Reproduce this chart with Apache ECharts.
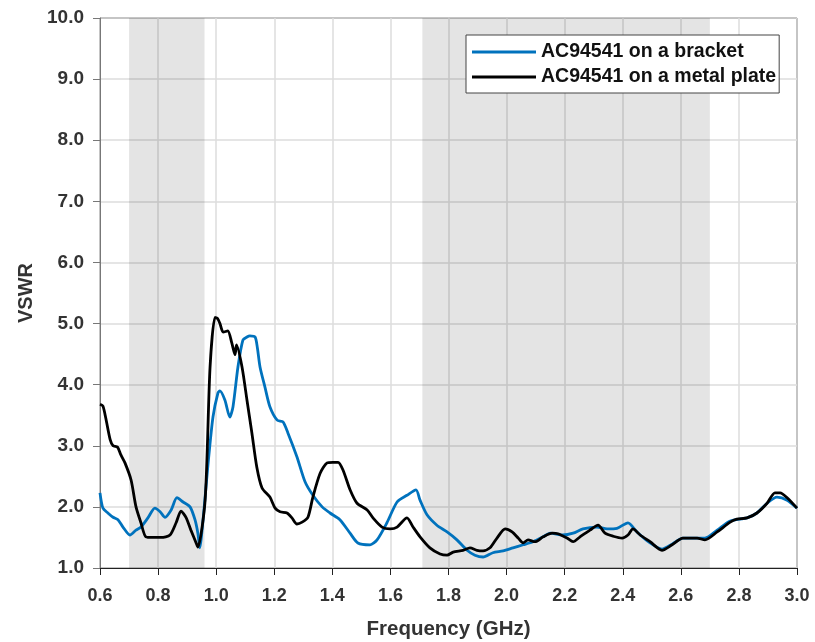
<!DOCTYPE html>
<html>
<head>
<meta charset="utf-8">
<script src="https://cdn.jsdelivr.net/npm/echarts@6/dist/echarts.min.js"></script>
<style>html,body{margin:0;padding:0;background:#fff}#c{width:815px;height:642px}</style>
</head>
<body>
<div id="c"></div>
<script>
const seriesNames = ['AC94541 on a bracket', 'AC94541 on a metal plate'];
const xTicks = ['0.6','0.8','1.0','1.2','1.4','1.6','1.8','2.0','2.2','2.4','2.6','2.8','3.0'];
const yTicks = ['1.0','2.0','3.0','4.0','5.0','6.0','7.0','8.0','9.0','10.0'];
const shadedBands = [[0.70, 0.96], [1.71, 2.70]];

const freqBracket = [0.6,0.61,0.627,0.645,0.662,0.679,0.703,0.724,0.741,0.765,0.789,0.807,0.824,0.845,0.865,0.886,0.91,0.927,0.937,0.944,0.95,0.958,0.972,0.989,1.006,1.013,1.03,1.047,1.058,1.075,1.092,1.106,1.116,1.134,1.142,1.151,1.168,1.185,1.21,1.23,1.247,1.278,1.306,1.333,1.365,1.392,1.426,1.461,1.488,1.53,1.554,1.588,1.623,1.657,1.688,1.702,1.726,1.76,1.795,1.829,1.864,1.891,1.919,1.953,1.988,2.022,2.057,2.091,2.126,2.15,2.194,2.229,2.263,2.311,2.346,2.38,2.418,2.449,2.494,2.535,2.57,2.607,2.656,2.683,2.725,2.77,2.828,2.862,2.897,2.931,2.966,3.0];
const vswrBracket = [2.23,1.98,1.90,1.83,1.79,1.67,1.54,1.62,1.67,1.82,1.98,1.92,1.83,1.95,2.15,2.08,2.0,1.79,1.57,1.33,1.55,1.95,2.7,3.47,3.86,3.9,3.75,3.47,3.64,4.29,4.73,4.78,4.80,4.78,4.6,4.29,3.96,3.64,3.42,3.39,3.21,2.82,2.41,2.19,2.0,1.90,1.79,1.57,1.41,1.38,1.46,1.74,2.08,2.19,2.28,2.11,1.87,1.70,1.59,1.46,1.29,1.21,1.18,1.25,1.28,1.33,1.38,1.43,1.51,1.57,1.54,1.57,1.64,1.67,1.64,1.65,1.74,1.59,1.41,1.31,1.39,1.49,1.49,1.49,1.62,1.77,1.82,1.90,2.06,2.16,2.11,1.98];

const freqPlate = [0.6,0.61,0.62,0.635,0.645,0.66,0.672,0.686,0.707,0.724,0.741,0.758,0.782,0.81,0.841,0.862,0.879,0.896,0.913,0.931,0.937,0.962,0.979,0.996,1.005,1.013,1.024,1.04,1.054,1.065,1.07,1.089,1.106,1.123,1.14,1.158,1.185,1.203,1.22,1.244,1.261,1.278,1.296,1.316,1.333,1.358,1.382,1.402,1.42,1.437,1.461,1.485,1.52,1.54,1.571,1.599,1.623,1.657,1.678,1.702,1.736,1.771,1.795,1.816,1.85,1.874,1.898,1.919,1.943,1.967,1.995,2.019,2.04,2.057,2.074,2.098,2.126,2.157,2.177,2.208,2.229,2.253,2.287,2.315,2.339,2.367,2.398,2.418,2.435,2.46,2.494,2.535,2.57,2.607,2.656,2.683,2.725,2.77,2.793,2.828,2.862,2.897,2.924,2.942,2.966,3.0];
const vswrPlate = [3.68,3.65,3.45,3.1,3.0,2.98,2.85,2.72,2.44,2.0,1.74,1.51,1.5,1.5,1.54,1.74,1.93,1.83,1.62,1.41,1.34,2.11,4.29,5.1,5.08,5.0,4.86,4.88,4.68,4.49,4.65,4.29,3.75,3.21,2.65,2.31,2.16,1.98,1.92,1.9,1.82,1.72,1.75,1.83,2.16,2.55,2.72,2.73,2.73,2.6,2.28,2.06,1.95,1.82,1.67,1.64,1.67,1.82,1.67,1.51,1.33,1.23,1.21,1.26,1.29,1.33,1.29,1.28,1.33,1.49,1.64,1.59,1.49,1.41,1.46,1.43,1.51,1.57,1.56,1.49,1.43,1.51,1.62,1.70,1.57,1.52,1.49,1.54,1.64,1.54,1.43,1.29,1.38,1.49,1.49,1.46,1.59,1.75,1.80,1.82,1.90,2.06,2.23,2.23,2.15,1.98];

const zip = (a, b) => a.map((x, i) => [x, b[i]]);
const FONT = '"Liberation Sans", Arial, sans-serif';

const chart = echarts.init(document.getElementById('c'), null, {renderer: 'canvas'});
chart.setOption({
  animation: false,
  backgroundColor: '#fff',
  grid: {left: 100, right: 18, top: 18, bottom: 74, show: true, borderColor: '#000', borderWidth: 1,
    backgroundColor: 'transparent', containLabel: false, outerBoundsMode: 'none'},
  legend: {
    left: 466, top: 35,
    orient: 'vertical',
    data: seriesNames,
    icon: 'rect',
    itemWidth: 64, itemHeight: 3,
    itemGap: 5,
    padding: [7, 3, 6, 6],
    backgroundColor: '#fff',
    borderColor: '#444', borderWidth: 1, borderRadius: 0,
    textStyle: {fontFamily: FONT, fontWeight: 'bold', fontSize: 19.5, color: '#111', lineHeight: 20}
  },
  xAxis: {
    type: 'value', min: 0.6, max: 3.0, interval: 0.2,
    name: 'Frequency (GHz)', nameLocation: 'middle', nameGap: 51,
    nameTextStyle: {fontFamily: FONT, fontWeight: 'bold', fontSize: 20.5, color: '#333'},
    axisLine: {show: true, lineStyle: {color: '#222', width: 1}},
    axisTick: {show: true, inside: false, length: 7, lineStyle: {color: '#222'}},
    axisLabel: {fontFamily: FONT, fontWeight: 'bold', fontSize: 18, color: '#333', margin: 19,
      formatter: (v) => xTicks[Math.round((v - 0.6) / 0.2)] || v.toFixed(1)},
    splitLine: {show: true, lineStyle: {color: '#dcdcdc', width: 1.5}}
  },
  yAxis: {
    type: 'value', min: 1, max: 10, interval: 1,
    name: 'VSWR', nameLocation: 'middle', nameGap: 63, nameRotate: 90,
    nameTextStyle: {fontFamily: FONT, fontWeight: 'bold', fontSize: 20, color: '#333'},
    axisLine: {show: true, lineStyle: {color: '#777', width: 1}},
    axisTick: {show: true, inside: false, length: 7, lineStyle: {color: '#777'}},
    axisLabel: {fontFamily: FONT, fontWeight: 'bold', fontSize: 19, color: '#333', margin: 16,
      formatter: (v) => yTicks[Math.round(v - 1)] || v.toFixed(1)},
    splitLine: {show: true, lineStyle: {color: '#dcdcdc', width: 1.5}}
  },
  series: [
    {
      name: seriesNames[0], type: 'line', data: zip(freqBracket, vswrBracket),
      showSymbol: false, smooth: 0.25, color: '#0072BD',
      lineStyle: {color: '#0072BD', width: 2.8}, z: 3,
      markArea: {
        silent: true,
        itemStyle: {color: 'rgba(0,0,0,0.105)'},
        data: shadedBands.map(b => [{xAxis: b[0]}, {xAxis: b[1]}])
      }
    },
    {
      name: seriesNames[1], type: 'line', data: zip(freqPlate, vswrPlate),
      showSymbol: false, smooth: 0.25, color: '#000',
      lineStyle: {color: '#000', width: 2.8}, z: 4
    }
  ]
});
</script>
</body>
</html>
